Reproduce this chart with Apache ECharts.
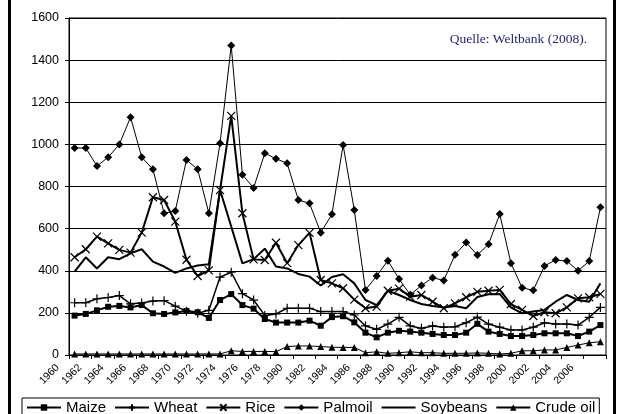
<!DOCTYPE html>
<html>
<head>
<meta charset="utf-8">
<script src="https://cdn.jsdelivr.net/npm/echarts@6/dist/echarts.min.js"></script>
<style>
  html, body { margin: 0; padding: 0; background: #fff; }
  #chart { width: 618px; height: 414px; }
</style>
</head>
<body>
<div id="chart"></div>
<script>
// Jahre 1960 - 2007
var years = ['1960', '1961', '1962', '1963', '1964', '1965', '1966', '1967', '1968', '1969',
  '1970', '1971', '1972', '1973', '1974', '1975', '1976', '1977', '1978', '1979',
  '1980', '1981', '1982', '1983', '1984', '1985', '1986', '1987', '1988', '1989',
  '1990', '1991', '1992', '1993', '1994', '1995', '1996', '1997', '1998', '1999',
  '2000', '2001', '2002', '2003', '2004', '2005', '2006', '2007']

var maize = [187, 195, 212, 229, 233, 226, 237, 198, 195, 202,
  209, 203, 176, 261, 289, 237, 220, 171, 154, 154,
  154, 163, 139, 180, 184, 155, 106, 84, 106, 115,
  111, 106, 100, 95, 95, 106, 148, 111, 100, 90,
  90, 95, 103, 103, 103, 90, 111, 142]

var wheat = [248, 248, 267, 273, 282, 243, 247, 256, 258, 232,
  208, 198, 212, 370, 393, 291, 261, 188, 195, 222,
  222, 222, 206, 206, 206, 190, 138, 122, 147, 179,
  138, 127, 138, 132, 134, 153, 180, 147, 132, 119,
  119, 132, 153, 147, 147, 142, 179, 226]

var rice = [464, 502, 562, 530, 499, 486, 581, 749, 736, 633,
  452, 375, 402, 783, 1135, 673, 454, 451, 533, 436,
  522, 580, 356, 340, 317, 263, 222, 230, 305, 315,
  277, 285, 253, 222, 245, 274, 300, 305, 309, 242,
  214, 185, 203, 198, 226, 269, 274, 290]

var palmoil = [983, 983, 897, 939, 1000, 1129, 939, 882, 673, 684,
  926, 882, 673, 1005, 1469, 856, 793, 958, 932, 910,
  736, 720, 581, 668, 997, 688, 309, 375, 448, 361,
  286, 330, 367, 354, 476, 534, 475, 526, 669, 436,
  319, 307, 423, 451, 446, 400, 446, 701]

var soybeans = [396, 464, 411, 464, 455, 483, 502, 443, 420, 390,
  411, 425, 431, 783, 610, 435, 455, 505, 420, 411,
  385, 372, 330, 370, 383, 340, 261, 237, 305, 285,
  261, 242, 233, 226, 233, 222, 275, 288, 290, 226,
  198, 206, 214, 253, 285, 261, 253, 340]

var crudeOil = [5, 5, 5, 5, 5, 5, 5, 5, 5, 5,
  5, 5, 5, 5, 20, 17, 17, 17, 16, 40,
  43, 43, 40, 37, 36, 36, 11, 15, 8, 11,
  15, 11, 11, 8, 8, 8, 10, 8, 5, 8,
  20, 20, 24, 24, 36, 47, 58, 63]

var yTicks = { min: 0, max: 1600, interval: 200 }

var plusSymbol = 'path://M0,5L10,5M5,0L5,10'
var crossSymbol = 'path://M0,0L10,10M10,0L0,10'

var myChart = echarts.init(document.getElementById('chart'), null, { renderer: 'canvas' })

function lineSeries(name, data, width, symbol, size, stroke) {
  return {
    name: name,
    type: 'line',
    data: data,
    symbol: symbol,
    symbolSize: size,
    showSymbol: symbol !== 'none',
    showAllSymbol: true,
    lineStyle: { color: '#000', width: width },
    itemStyle: {
      color: '#000',
      borderColor: '#000',
      borderWidth: stroke ? 1.2 : 0
    },
    emphasis: { disabled: true },
    z: 3
  }
}

var option = {
  animation: false,
  backgroundColor: '#fff',
  grid: {
    left: 69,
    right: 12,
    top: 18,
    bottom: 59,
    show: true,
    borderColor: '#000',
    borderWidth: 1
  },
  xAxis: {
    type: 'category',
    data: years,
    boundaryGap: true,
    axisLine: { lineStyle: { color: '#000', width: 1 } },
    axisTick: { show: true, interval: 1, length: 4, lineStyle: { color: '#000' } },
    axisLabel: {
      interval: 1,
      rotate: 45,
      margin: -6,
      padding: [0, 24, 0, 0],
      color: '#000',
      fontFamily: 'Liberation Sans, Arial, sans-serif',
      fontSize: 10.5
    },
    splitLine: { show: false }
  },
  yAxis: {
    type: 'value',
    min: yTicks.min,
    max: yTicks.max,
    interval: yTicks.interval,
    axisLine: { show: true, lineStyle: { color: '#000', width: 1 } },
    axisTick: { show: true, length: 4, lineStyle: { color: '#000' } },
    axisLabel: {
      margin: 10,
      color: '#000',
      fontFamily: 'Liberation Sans, Arial, sans-serif',
      fontSize: 12.5,
      formatter: function (v) { return String(v) }
    },
    splitLine: { show: true, lineStyle: { color: '#000', width: 1 } }
  },
  legend: {
    left: 22,
    top: 398,
    padding: [2, 4, 2, 4],
    borderColor: '#000',
    borderWidth: 1,
    itemGap: 8,
    itemWidth: 34,
    itemHeight: 8,
    textStyle: {
      color: '#000',
      fontFamily: 'Liberation Sans, Arial, sans-serif',
      fontSize: 15
    },
    data: ['Maize', 'Wheat', 'Rice', 'Palmoil',
      { name: 'Soybeans', itemStyle: { opacity: 0 } }, 'Crude oil']
  },
  graphic: [
    {
      type: 'line',
      shape: { x1: 9.5, y1: 0, x2: 9.5, y2: 414 },
      style: { stroke: '#000', lineWidth: 3 }
    },
    {
      type: 'line',
      shape: { x1: 614.5, y1: 0, x2: 614.5, y2: 414 },
      style: { stroke: '#000', lineWidth: 3 }
    },
    {
      type: 'text',
      right: 31,
      top: 32,
      style: {
        text: 'Quelle: Weltbank (2008).',
        fill: '#1f1f78',
        font: '13.5px "Liberation Serif", "Times New Roman", serif'
      }
    }
  ],
  series: [
    lineSeries('Maize', maize, 2, 'rect', 6, false),
    lineSeries('Wheat', wheat, 1.5, plusSymbol, 9, true),
    lineSeries('Rice', rice, 2, crossSymbol, 8, true),
    lineSeries('Palmoil', palmoil, 1, 'diamond', 8, false),
    lineSeries('Soybeans', soybeans, 2, 'none', 0, false),
    lineSeries('Crude oil', crudeOil, 1, 'triangle', 7, false)
  ]
}

myChart.setOption(option)
</script>
</body>
</html>
